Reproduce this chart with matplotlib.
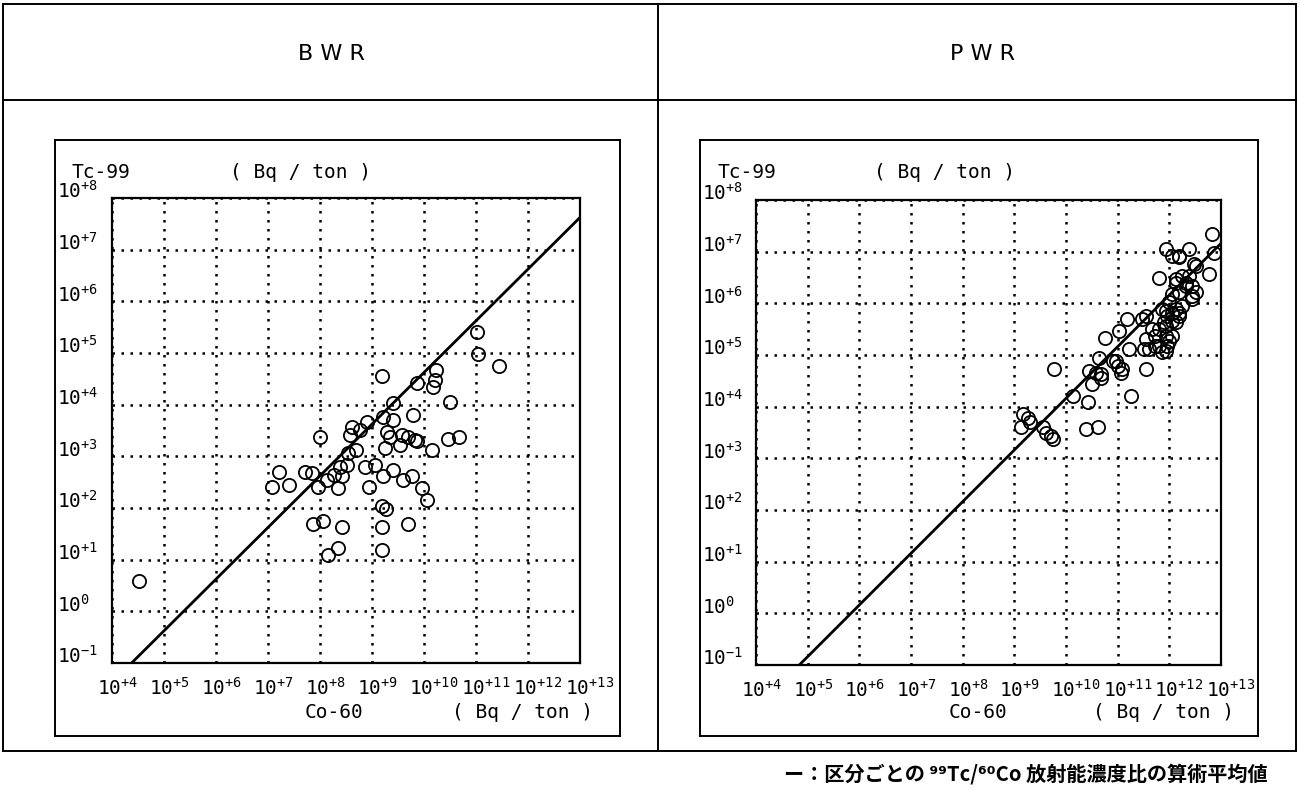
import matplotlib
matplotlib.use("Agg")
import matplotlib.pyplot as plt
import matplotlib.transforms as mtransforms
from matplotlib import font_manager
from matplotlib.lines import Line2D
import numpy as np

W, H = 1299, 795

# log10 concentrations (Bq/ton): Co-60 on x, Tc-99 on y
bwr_log_co60 = [4.51, 7.07, 7.22, 7.40, 7.71, 7.85, 7.97, 8.00, 8.13, 8.26,
                8.35, 8.42, 8.38, 8.51, 8.54, 8.70, 8.61, 8.58, 8.77, 8.90,
                8.87, 8.95, 9.06, 9.22, 9.41, 9.59, 9.76, 9.96, 10.05, 9.25,
                9.28, 9.22, 9.41, 9.54, 9.57, 9.70, 9.83, 9.79, 10.15, 10.47,
                10.68, 10.50, 9.41, 7.87, 8.05, 8.43, 8.16, 8.34, 9.19, 9.27,
                9.19, 9.19, 9.69, 11.01, 11.03, 11.45, 9.19, 10.24, 10.21, 10.18,
                9.87, 9.35, 9.86]
bwr_log_tc99 = [0.59, 2.40, 2.70, 2.45, 2.70, 2.68, 2.40, 3.38, 2.54, 2.64,
                2.38, 2.61, 2.80, 2.83, 3.06, 3.12, 3.57, 3.41, 3.51, 3.67,
                2.80, 2.41, 2.83, 2.62, 2.74, 2.54, 2.62, 2.38, 2.16, 3.16,
                3.48, 3.77, 3.70, 3.22, 3.41, 3.38, 3.32, 3.80, 3.12, 3.33,
                3.37, 4.06, 4.03, 1.69, 1.75, 1.64, 1.09, 1.23, 2.03, 1.98,
                1.64, 1.19, 1.69, 5.41, 4.99, 4.75, 4.56, 4.67, 4.48, 4.35,
                4.41, 3.38, 3.30]

pwr_log_co60 = [9.16, 9.26, 9.13, 9.30, 9.55, 9.61, 9.71, 9.74, 10.38, 10.61,
                9.77, 10.13, 10.42, 10.50, 10.45, 10.58, 10.64, 10.67, 10.67, 10.76,
                10.90, 10.96, 11.00, 11.06, 11.09, 11.25, 11.22, 11.54, 11.03, 11.19,
                11.48, 11.54, 11.54, 11.51, 11.61, 11.67, 11.73, 11.73, 11.80, 11.80,
                11.86, 11.90, 11.93, 11.93, 11.93, 11.96, 11.96, 11.99, 11.86, 11.93,
                11.99, 12.06, 12.06, 12.06, 12.06, 12.12, 12.12, 12.12, 12.12, 12.19,
                12.19, 12.19, 12.19, 12.25, 12.25, 12.32, 12.32, 12.38, 12.44, 12.44,
                12.44, 12.48, 12.51, 12.51, 11.80, 11.93, 12.38, 12.06, 12.76, 12.83,
                12.86, 12.19]
pwr_log_tc99 = [3.85, 3.79, 3.60, 3.70, 3.60, 3.50, 3.44, 3.37, 3.56, 3.60,
                4.73, 4.20, 4.09, 4.44, 4.69, 4.66, 4.95, 4.63, 4.56, 5.32,
                4.89, 4.89, 4.79, 4.66, 4.73, 4.21, 5.11, 4.73, 5.47, 5.69,
                5.69, 5.76, 5.31, 5.11, 5.11, 5.50, 5.37, 5.18, 5.50, 5.18,
                5.05, 5.63, 5.56, 5.37, 5.08, 5.76, 5.18, 5.27, 5.89, 5.85,
                6.02, 5.82, 5.66, 5.37, 6.18, 5.63, 5.89, 6.40, 6.47, 5.82,
                5.76, 6.21, 6.89, 5.95, 6.53, 6.40, 6.34, 6.53, 6.34, 6.14,
                6.08, 6.76, 6.21, 6.72, 6.50, 7.05, 7.05, 6.92, 6.56, 7.34,
                6.98, 6.92]

# arithmetic mean of the Tc-99 / Co-60 ratio for each reactor type
bwr_mean_ratio = 4.2e-6
pwr_mean_ratio = 1.45e-6

x_exponents = list(range(4, 14))
y_exponents = list(range(-1, 9))
panel_titles = ["B W R", "P W R"]

installed = {f.name for f in font_manager.fontManager.ttflist}
num_font = "Liberation Sans Narrow" if "Liberation Sans Narrow" in installed else "DejaVu Sans Mono"

plt.rcParams["font.family"] = ["DejaVu Sans Mono"]
plt.rcParams["mathtext.fontset"] = "custom"
plt.rcParams["mathtext.rm"] = num_font
plt.rcParams["mathtext.it"] = num_font
plt.rcParams["mathtext.bf"] = num_font
plt.rcParams["mathtext.default"] = "rm"


def fx(px):
    return px / W


def fy(py):
    return 1 - py / H


def exp_label(e):
    if e > 0:
        return r"$10^{+%d}$" % e
    if e == 0:
        return r"$10^{0}$"
    return r"$10^{-%d}$" % (-e)


fig = plt.figure(figsize=(W / 100, H / 100), dpi=100)
fig.patch.set_facecolor("white")


def fig_line(x0, y0, x1, y1, lw=1.4):
    fig.add_artist(Line2D([fx(x0), fx(x1)], [fy(y0), fy(y1)],
                          transform=fig.transFigure, color="black", lw=lw))


def fig_box(x0, y0, x1, y1, lw=1.4):
    fig_line(x0, y0, x1, y0, lw)
    fig_line(x1, y0, x1, y1, lw)
    fig_line(x1, y1, x0, y1, lw)
    fig_line(x0, y1, x0, y0, lw)


# table frame
fig_box(3, 4, 1296, 751)
fig_line(3, 100, 1296, 100)
fig_line(658, 4, 658, 751)

panels = [
    dict(ax=(112, 198, 580, 663), box=(55, 140, 620, 736), title_x=331,
         xs=bwr_log_co60, ys=bwr_log_tc99, ratio=bwr_mean_ratio),
    dict(ax=(756, 200, 1221, 665), box=(700, 140, 1258, 736), title_x=982,
         xs=pwr_log_co60, ys=pwr_log_tc99, ratio=pwr_mean_ratio),
]

for p, title in zip(panels, panel_titles):
    x0, y0, x1, y1 = p["ax"]
    fig.text(fx(p["title_x"]), fy(54), title, ha="center", va="center",
             fontsize=16, family="DejaVu Sans")
    fig_box(*p["box"])

    ax = fig.add_axes([fx(x0), fy(y1), (x1 - x0) / W, (y1 - y0) / H])
    ax.set_xscale("log")
    ax.set_yscale("log")
    ax.set_xlim(10.0 ** x_exponents[0], 10.0 ** x_exponents[-1])
    ax.set_ylim(10.0 ** y_exponents[0], 10.0 ** y_exponents[-1])
    ax.minorticks_off()
    ax.set_xticks([10.0 ** e for e in x_exponents])
    ax.set_xticklabels([exp_label(e) for e in x_exponents], fontsize=14)
    ax.set_yticks([10.0 ** e for e in y_exponents])
    ax.set_yticklabels([exp_label(e) for e in y_exponents], fontsize=14)
    ax.tick_params(axis="both", length=0)
    ax.tick_params(axis="x", pad=10)
    ax.tick_params(axis="y", pad=(x0 - p["box"][0] - 2) * 0.72)
    shift_x = mtransforms.ScaledTranslation(-0.15, 0, fig.dpi_scale_trans)
    for lab in ax.get_xticklabels():
        lab.set_ha("left")
        lab.set_transform(lab.get_transform() + shift_x)
    for lab in ax.get_yticklabels():
        lab.set_ha("left")
        lab.set_va("baseline")
    ax.grid(True, which="major", color="black", linestyle=(0, (1.0, 2.6)),
            linewidth=1.8)
    for s in ax.spines.values():
        s.set_linewidth(1.6)
    ax.set_axisbelow(True)

    co = np.power(10.0, p["xs"])
    tc = np.power(10.0, p["ys"])
    ax.plot(co, tc, "o", mfc="none", mec="black", ms=9.5, mew=1.3,
            linestyle="none", zorder=3)
    line_x = np.logspace(x_exponents[0], x_exponents[-1], 100)
    ax.plot(line_x, p["ratio"] * line_x, color="black", lw=2.0, zorder=4)

    bx = p["box"][0]
    fig.text(fx(bx + 17), fy(173), "Tc-99", ha="left", va="center", fontsize=14)
    fig.text(fx(x0 + 118), fy(173), "( Bq / ton )", ha="left", va="center",
             fontsize=14)
    fig.text(fx(x0 + 193), fy(713), "Co-60", ha="left", va="center", fontsize=14)
    fig.text(fx(x1 + 13), fy(713), "( Bq / ton )", ha="right", va="center",
             fontsize=14)

fig.text(fx(1268), fy(774), "ー：区分ごとの ⁹⁹Tc/⁶⁰Co 放射能濃度比の算術平均値",
         ha="right", va="center", fontsize=14.5, fontweight="bold",
         family=["Noto Sans CJK JP", "DejaVu Sans"])

fig.savefig("out.png", dpi=100, facecolor="white")
